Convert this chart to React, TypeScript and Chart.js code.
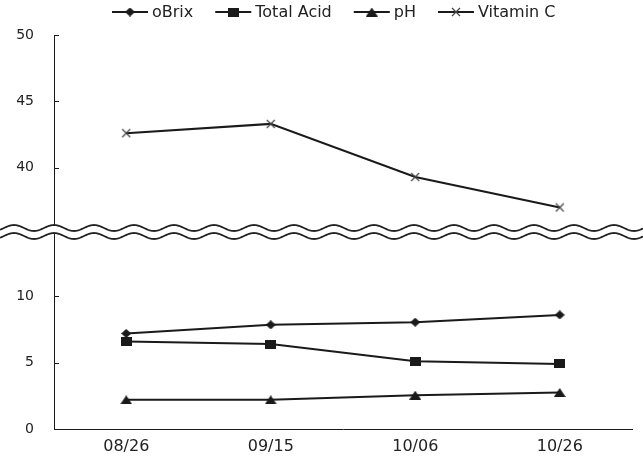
import React, { useEffect, useRef } from "react";
import { Chart, registerables } from "chart.js";

Chart.register(...registerables);

// ---- data ----
const CATEGORIES = ["08/26", "09/15", "10/06", "10/26"];
const SERIES_NAMES = ["oBrix", "Total Acid", "pH", "Vitamin C"];
const OBRIX = [7.2, 7.85, 8.05, 8.6];
const TOTAL_ACID = [6.6, 6.4, 5.1, 4.9];
const PH = [2.2, 2.2, 2.55, 2.75];
const VITAMIN_C = [42.6, 43.3, 39.3, 37.0];

// ---- broken y axis ----
const LOWER_TICKS = [0, 5, 10];
const UPPER_TICKS = [40, 45, 50];
const LOWER_MAX = 15;
const UPPER_MIN = 35;
const UPPER_MAX = 50;
const AXIS_OFFSET = 20.3; // upper segment is drawn shifted down by this amount

const INK = "#1a1a1a";
const TEXT = "#222";
const FONT = "'DejaVu Sans', sans-serif";

function makeMarker(kind: string): HTMLCanvasElement {
  const c = document.createElement("canvas");
  const w = kind === "square" ? 11 : kind === "triangle" ? 12 : 10;
  const h = kind === "square" ? 9 : kind === "triangle" ? 9 : kind === "diamond" ? 9 : 10;
  c.width = w;
  c.height = h;
  const g = c.getContext("2d")!;
  g.fillStyle = INK;
  g.strokeStyle = "#444";
  if (kind === "diamond") {
    g.beginPath();
    g.moveTo(w / 2, 0);
    g.lineTo(w, h / 2);
    g.lineTo(w / 2, h);
    g.lineTo(0, h / 2);
    g.closePath();
    g.fill();
  } else if (kind === "square") {
    g.fillRect(0, 0, w, h);
  } else if (kind === "triangle") {
    g.beginPath();
    g.moveTo(w / 2, 0);
    g.lineTo(w, h);
    g.lineTo(0, h);
    g.closePath();
    g.fill();
  } else {
    g.lineWidth = 1.2;
    g.beginPath();
    g.moveTo(1, 1);
    g.lineTo(w - 1, h - 1);
    g.moveTo(w - 1, 1);
    g.lineTo(1, h - 1);
    g.stroke();
  }
  return c;
}

const overlayPlugin = {
  id: "brokenAxisOverlay",
  afterDraw(chart: any) {
    const { ctx, chartArea, scales } = chart;
    const y = scales.y;
    const left = chartArea.left;
    ctx.save();

    // inward tick marks on the y axis
    ctx.strokeStyle = INK;
    ctx.lineWidth = 1;
    y.ticks.forEach((t: any) => {
      if (t.value === 0) return;
      const py = Math.round(y.getPixelForValue(t.value)) + 0.5;
      ctx.beginPath();
      ctx.moveTo(left, py);
      ctx.lineTo(left + 5, py);
      ctx.stroke();
    });

    // wavy break band across the whole figure
    const yc = y.getPixelForValue((LOWER_MAX + UPPER_MIN - AXIS_OFFSET) / 2);
    const gap = 4;
    const amp = 3;
    const wl = 40;
    const wave = (x: number, off: number) =>
      yc + off - amp * Math.cos(((x - left) / wl) * 2 * Math.PI);
    const W = chart.width;
    ctx.beginPath();
    for (let x = 0; x <= W; x++) {
      const yy = wave(x, -gap);
      if (x === 0) ctx.moveTo(x, yy);
      else ctx.lineTo(x, yy);
    }
    for (let x = W; x >= 0; x--) ctx.lineTo(x, wave(x, gap));
    ctx.closePath();
    ctx.fillStyle = "#fff";
    ctx.fill();
    ctx.lineWidth = 1.8;
    ctx.strokeStyle = "#222";
    [-gap, gap].forEach((off) => {
      ctx.beginPath();
      for (let x = 0; x <= W; x++) {
        const yy = wave(x, off);
        if (x === 0) ctx.moveTo(x, yy);
        else ctx.lineTo(x, yy);
      }
      ctx.stroke();
    });

    // legend: line + marker + label
    ctx.font = `16px ${FONT}`;
    ctx.textBaseline = "middle";
    ctx.textAlign = "left";
    let lx = 112;
    const ly = 12;
    chart.data.datasets.forEach((ds: any) => {
      ctx.strokeStyle = INK;
      ctx.lineWidth = 2;
      ctx.beginPath();
      ctx.moveTo(lx, ly);
      ctx.lineTo(lx + 36, ly);
      ctx.stroke();
      const m = ds.pointStyle as HTMLCanvasElement;
      ctx.drawImage(m, lx + 18 - m.width / 2, ly - m.height / 2);
      ctx.fillStyle = TEXT;
      ctx.fillText(ds.label, lx + 40, ly + 1);
      lx += 40 + ctx.measureText(ds.label).width + 22;
    });

    ctx.restore();
  },
};

export default function App() {
  const ref = useRef<HTMLCanvasElement | null>(null);

  useEffect(() => {
    if (!ref.current) return;
    const markers = ["diamond", "square", "triangle", "cross"].map(makeMarker);
    const values = [OBRIX, TOTAL_ACID, PH, VITAMIN_C.map((v) => v - AXIS_OFFSET)];
    const chart = new Chart(ref.current, {
      type: "line",
      data: {
        labels: CATEGORIES,
        datasets: SERIES_NAMES.map((name, i) => ({
          label: name,
          data: values[i],
          borderColor: INK,
          borderWidth: 2,
          backgroundColor: INK,
          pointStyle: markers[i] as any,
          pointRadius: 5,
          pointHoverRadius: 5,
          tension: 0,
          fill: false,
        })),
      },
      options: {
        animation: false,
        responsive: false,
        maintainAspectRatio: false,
        layout: { padding: { top: 35, right: 11, left: 0, bottom: 0 } },
        plugins: {
          legend: { display: false },
          tooltip: { enabled: false },
        },
        scales: {
          x: {
            type: "category",
            offset: true,
            grid: { display: false, drawTicks: false },
            border: { display: true, color: INK, width: 1 },
            ticks: { color: TEXT, font: { family: FONT, size: 16 }, padding: 8 },
            afterFit: (s: any) => {
              s.height = 32;
            },
          },
          y: {
            type: "linear",
            min: 0,
            max: UPPER_MAX - AXIS_OFFSET,
            grid: { display: false, drawTicks: false },
            border: { display: true, color: INK, width: 1 },
            afterBuildTicks: (s: any) => {
              s.ticks = [...LOWER_TICKS, ...UPPER_TICKS.map((v) => v - AXIS_OFFSET)].map(
                (value) => ({ value })
              );
            },
            ticks: {
              color: TEXT,
              font: { family: FONT, size: 14 },
              padding: 20,
              autoSkip: false,
              callback: (value: any) => {
                const v = Number(value);
                return v > LOWER_MAX ? String(Math.round(v + AXIS_OFFSET)) : String(Math.round(v));
              },
            },
            afterFit: (s: any) => {
              s.width = 54;
            },
          },
        },
      },
      plugins: [overlayPlugin],
    });
    return () => chart.destroy();
  }, []);

  return (
    <div style={{ position: "absolute", left: 0, top: 0, width: 643, height: 461, background: "#fff" }}>
      <canvas ref={ref} width={643} height={461} style={{ display: "block" }} />
    </div>
  );
}
